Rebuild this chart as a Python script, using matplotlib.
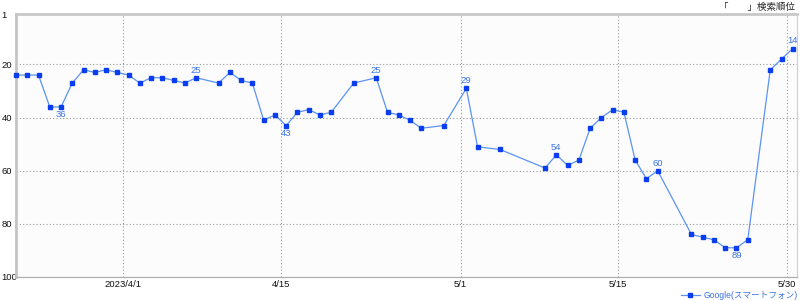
import matplotlib
matplotlib.use("Agg")
import matplotlib.pyplot as plt
import pandas as pd

plt.rcParams['font.family'] = ['Liberation Sans', 'Noto Sans CJK JP', 'DejaVu Sans']

# ---- data ----
dates = ['2023-03-22', '2023-03-23', '2023-03-24', '2023-03-25', '2023-03-26', '2023-03-27',
         '2023-03-28', '2023-03-29', '2023-03-30', '2023-03-31', '2023-04-01', '2023-04-02',
         '2023-04-03', '2023-04-04', '2023-04-05', '2023-04-06', '2023-04-07',
         '2023-04-09', '2023-04-10', '2023-04-11', '2023-04-12', '2023-04-13', '2023-04-14',
         '2023-04-15', '2023-04-16', '2023-04-17', '2023-04-18', '2023-04-19',
         '2023-04-21', '2023-04-23', '2023-04-24', '2023-04-25', '2023-04-26', '2023-04-27',
         '2023-04-29', '2023-05-01', '2023-05-02', '2023-05-04',
         '2023-05-08', '2023-05-09', '2023-05-10', '2023-05-11', '2023-05-12', '2023-05-13',
         '2023-05-14', '2023-05-15', '2023-05-16', '2023-05-17', '2023-05-18',
         '2023-05-21', '2023-05-22', '2023-05-23', '2023-05-24', '2023-05-25', '2023-05-26',
         '2023-05-28', '2023-05-29', '2023-05-30']
ranks = [24, 24, 24, 36, 36, 27, 22, 23, 22, 23, 24, 27, 25, 25, 26, 27, 25,
         27, 23, 26, 27, 41, 39, 43, 38, 37, 39, 38,
         27, 25, 38, 39, 41, 44,
         43, 29, 51, 52,
         59, 54, 58, 56, 44, 40, 37, 38, 56, 63, 60,
         84, 85, 86, 89, 89, 86,
         22, 18, 14]
label_dates = ['2023-03-26', '2023-04-07', '2023-04-15', '2023-04-23', '2023-05-01',
               '2023-05-09', '2023-05-18', '2023-05-25', '2023-05-30']
label_above = [False, True, False, True, True, True, True, False, True]
series_name = 'Google(スマートフォン)'
title_text = '「　　」検索順位'
yticks = [1, 20, 40, 60, 80, 100]
xtick_dates = ['2023-04-01', '2023-04-15', '2023-05-01', '2023-05-15', '2023-05-30']
xtick_labels = ['2023/4/1', '4/15', '5/1', '5/15', '5/30']

line_color = '#5b93f2'
marker_color = '#0a3df0'
label_color = '#3a72e6'

# ---- figure ----
fig = plt.figure(figsize=(8, 3), dpi=100)
ax = fig.add_axes([16 / 800, 1 - 277 / 300, (797 - 16) / 800, (277 - 14) / 300])
ax.set_facecolor('#fcfcfc')

half_day = pd.Timedelta(hours=12)
x = pd.to_datetime(dates) + half_day
line, = ax.plot(x, ranks, color=line_color, lw=0.9, marker='s', markersize=2.8,
                markerfacecolor=marker_color, markeredgecolor=marker_color,
                clip_on=False, zorder=3)

lookup = dict(zip(dates, ranks))
for d, above in zip(label_dates, label_above):
    v = lookup[d]
    ax.annotate(str(v), (pd.Timestamp(d) + half_day, v), textcoords='offset points',
                xytext=(0, 5.5 if above else -5.5), ha='center', va='center',
                fontsize=6.8, color=label_color, zorder=4, annotation_clip=False)

ax.set_ylim(100, 1)
ax.set_xlim(x[0], x[-1] + pd.Timedelta(hours=9))

ax.set_yticks(yticks)
ax.set_yticklabels([str(t) for t in yticks])
ax.tick_params(axis='y', length=0, pad=10.5, labelsize=6.8, labelcolor='#111111')
for lab in ax.get_yticklabels():
    lab.set_horizontalalignment('left')

ax.set_xticks(pd.to_datetime(xtick_dates))
ax.set_xticklabels(xtick_labels)
ax.tick_params(axis='x', length=0, pad=2.5, labelsize=6.8, labelcolor='#111111')

ax.grid(True, color='#9a9a9a', linestyle=(0, (1, 2)), linewidth=0.8)

ax.spines['left'].set_color('#c4c4c4')
ax.spines['left'].set_linewidth(2)
ax.spines['top'].set_color('#c8c8c8')
ax.spines['top'].set_linewidth(2)
ax.spines['bottom'].set_color('#b0b0b0')
ax.spines['bottom'].set_linewidth(0.9)
ax.spines['right'].set_color('#d0d0d0')
ax.spines['right'].set_linewidth(0.8)

fig.text(0.994, 0.99, title_text, ha='right', va='top', fontsize=6.8, color='#222222',
         family=['Noto Sans CJK JP', 'DejaVu Sans'])

leg = fig.legend([line], [series_name], loc='center right',
                 bbox_to_anchor=(0.997, 1 - 295.5 / 300), borderaxespad=0,
                 frameon=False, labelcolor=label_color, handlelength=2.2,
                 handletextpad=0.4, borderpad=0,
                 prop={'family': ['Liberation Sans', 'Noto Sans CJK JP'], 'size': 6.2})

fig.savefig('out.png', dpi=100)
